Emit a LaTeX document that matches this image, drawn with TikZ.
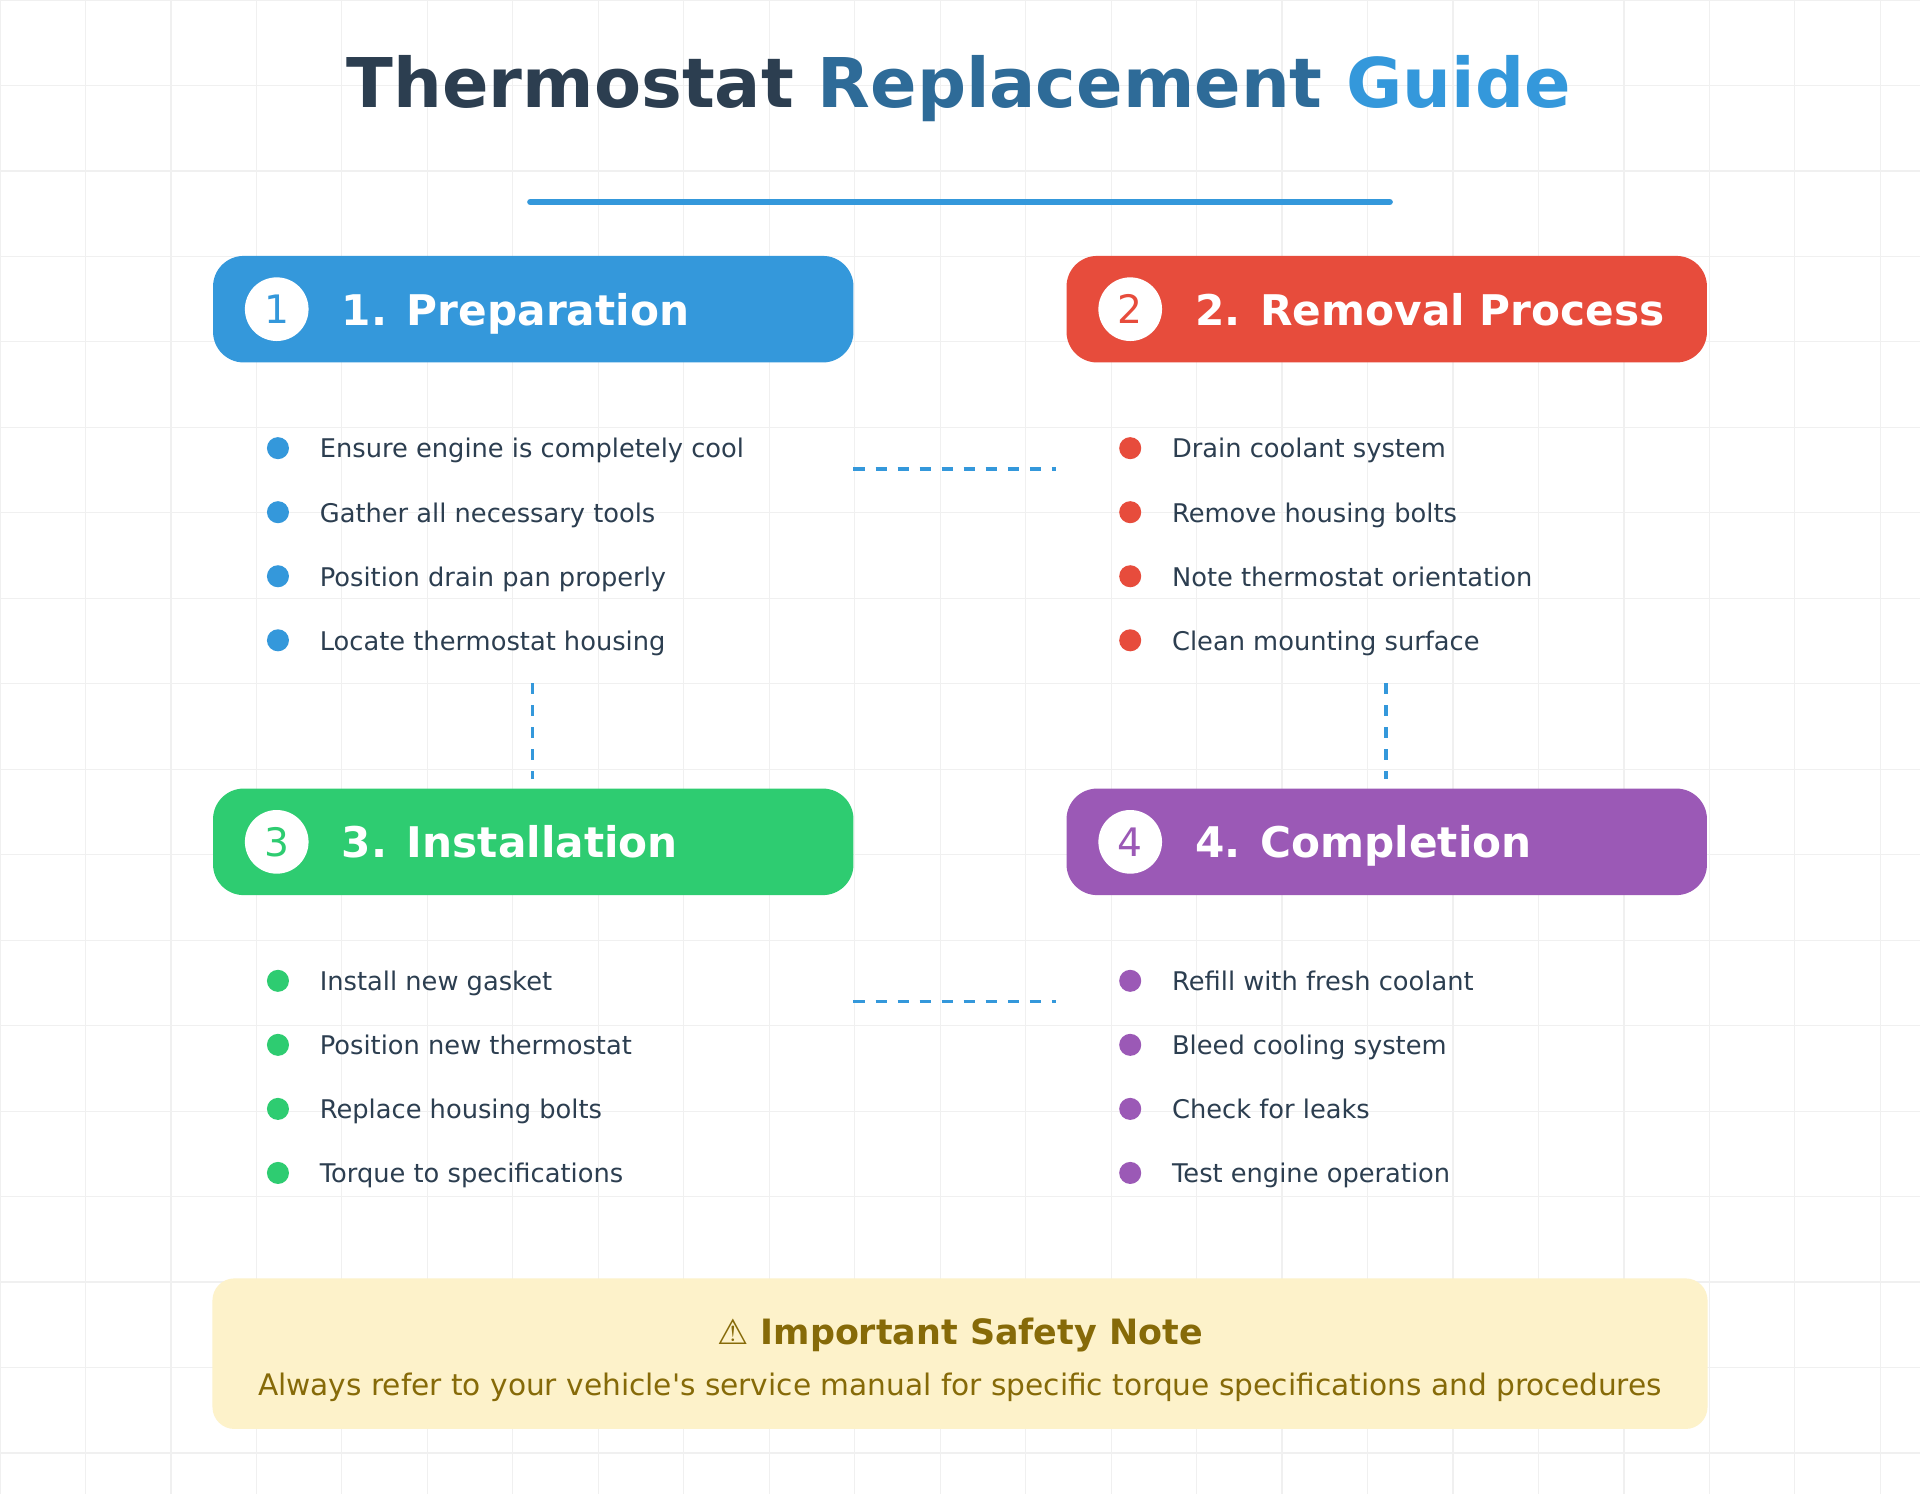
\documentclass[tikz,border=0pt]{standalone}
\usepackage{fontspec}
\setmainfont{DejaVu Sans}
\usetikzlibrary{positioning}
\definecolor{tdark}{HTML}{2C3E50}
\definecolor{tmid}{HTML}{2E6B98}
\definecolor{cblue}{HTML}{3498DB}
\definecolor{cred}{HTML}{E74C3C}
\definecolor{cgreen}{HTML}{2ECC71}
\definecolor{cpurple}{HTML}{9B59B6}
\definecolor{notebg}{HTML}{FDF2CA}
\definecolor{notefg}{HTML}{866A08}
\definecolor{gridc}{HTML}{F0F0F0}
\tikzset{
 hdr/.style={rounded corners=25pt, minimum width=523pt, minimum height=87pt, inner sep=0pt},
 hdrtxt/.style={anchor=base west, inner sep=0pt, text=white, font=\fontsize{34.5}{38}\selectfont\bfseries},
 numc/.style={circle, fill=white, minimum size=52pt, inner sep=0pt, font=\fontsize{32}{36}\selectfont},
 dot/.style={circle, minimum size=18pt, inner sep=0pt},
 itm/.style={anchor=base west, inner sep=0pt, text=tdark, font=\fontsize{21}{26}\selectfont},
 conn/.style={cblue, line width=3pt, dash pattern=on 9pt off 9pt},
}
\begin{document}
\begin{tikzpicture}[x=1pt,y=-1pt]
\fill[white] (0,0) rectangle (1568,1220);
\useasboundingbox (0,0) rectangle (1568,1220);
\foreach \i in {0,...,22} \draw[gridc, line width=1pt] (\i*69.8,0) -- (\i*69.8,1220);
\foreach \i in {0,...,17} \draw[gridc, line width=1pt] (0,\i*69.8) -- (1568,\i*69.8);
\node[anchor=base, inner sep=0pt] (title) at (783,88) {\fontsize{56}{60}\selectfont\bfseries\textcolor{tdark}{Thermostat} \textcolor{tmid}{Replacement} \textcolor{cblue}{Guide}};
\draw[cblue, line width=5pt, line cap=round] (433,165) -- (1135,165);
% headers
\foreach \n/\c/\x/\y/\t in {1/cblue/435.5/252.5/1. Preparation, 2/cred/1132.5/252.5/2. Removal Process, 3/cgreen/435.5/687.5/3. Installation, 4/cpurple/1132.5/687.5/4. Completion}{
 \node[hdr, fill=\c] (h\n) at (\x,\y) {};
 \node[numc, text=\c] (n\n) at (\x-209.5,\y) {\n};
 \node[hdrtxt] (ht\n) at (\x-156.5,\y+13) {\t};
}
% items
\foreach \k/\lst in {1/{Ensure engine is completely cool,Gather all necessary tools,Position drain pan properly,Locate thermostat housing},
 2/{Drain coolant system,Remove housing bolts,Note thermostat orientation,Clean mounting surface},
 3/{Install new gasket,Position new thermostat,Replace housing bolts,Torque to specifications},
 4/{Refill with fresh coolant,Bleed cooling system,Check for leaks,Test engine operation}}{
 \ifcase\k\or\def\cc{cblue}\def\xx{227}\def\yy{366}\or\def\cc{cred}\def\xx{923}\def\yy{366}\or\def\cc{cgreen}\def\xx{227}\def\yy{801}\or\def\cc{cpurple}\def\xx{923}\def\yy{801}\fi
 \foreach \s [count=\j from 0] in \lst {
  \node[dot, fill=\cc] (d\k\j) at (\xx,\yy+52.3*\j) {};
  \node[itm] (t\k\j) at (\xx+34,\yy+52.3*\j+8) {\s};
 }
}
\coordinate (a1) at (697,383); \coordinate (a2) at (862,383);
\coordinate (b1) at (697,818); \coordinate (b2) at (862,818);
\coordinate (c1) at (435,558); \coordinate (c2) at (435,636);
\coordinate (e1) at (1132,558); \coordinate (e2) at (1132,636);
\draw[conn] (a1) -- (a2);
\draw[conn] (b1) -- (b2);
\draw[conn] (c1) -- (c2);
\draw[conn] (e1) -- (e2);
% note
\node[fill=notebg, rounded corners=18pt, minimum width=1221pt, minimum height=123pt] (note) at (784,1105.5) {};
\node[anchor=base, inner sep=0pt, text=notefg, font=\fontsize{28.5}{30}\selectfont\bfseries] (nt) at (784,1098) {⚠ Important Safety Note};
\node[anchor=base, inner sep=0pt, text=notefg, font=\fontsize{24.2}{26}\selectfont\addfontfeatures{Ligatures=TeXOff}] (nb) at (784,1140) {Always refer to your vehicle's service manual for specific torque specifications and procedures};
\end{tikzpicture}
\end{document}
